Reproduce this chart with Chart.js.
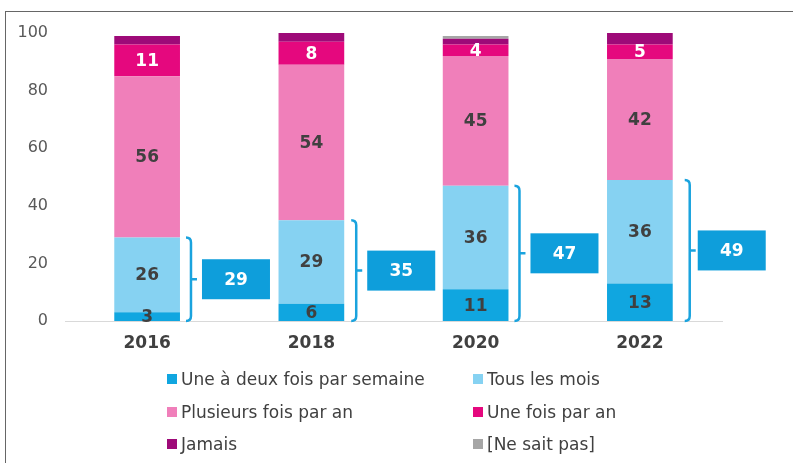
<!DOCTYPE html>
<html>
<head>
<meta charset="utf-8">
<script src="https://cdn.jsdelivr.net/npm/chart.js@4/dist/chart.umd.min.js"></script>
<style>
  body { margin: 0; background: #fff; }
  #wrap { position: relative; width: 793px; height: 463px; overflow: hidden; }
  #frame { position: absolute; left: 5px; top: 11px; right: 0; bottom: 0;
           border-top: 1px solid #666; border-left: 1px solid #666; }
  #legend { position: absolute; left: 167px; top: 363px; display: grid;
            grid-template-columns: 306px auto; grid-auto-rows: 32.5px;
            font: 17px "DejaVu Sans", Verdana, sans-serif; color: #404040; }
  #legend div { display: flex; align-items: center; }
  #legend span.box { width: 10px; height: 10px; margin-right: 4px; display: inline-block; }
  canvas { position: absolute; left: 0; top: 0; }
</style>
</head>
<body>
<div id="wrap">
  <div id="frame"></div>
  <canvas id="freqChart" width="793" height="463"></canvas>
  <div id="legend"></div>
</div>
<script>
// Fréquence - par année
const years = ['2016', '2018', '2020', '2022'];
const weekly = [3, 6, 11, 13];
const monthly = [26, 29, 36, 36];
const severalPerYear = [56, 54, 45, 42];
const oncePerYear = [11, 8, 4, 5];
const never = [3, 3, 2, 4];
const dontKnow = [0, 0, 1, 0];

const seriesNames = ['Une à deux fois par semaine', 'Tous les mois', 'Plusieurs fois par an',
                     'Une fois par an', 'Jamais', '[Ne sait pas]'];
const seriesColors = ['#10a6e0', '#86d2f2', '#f07fba', '#e5087e', '#9e0a78', '#a6a6a6'];
const seriesData = [weekly, monthly, severalPerYear, oncePerYear, never, dontKnow];

const yTicks = [0, 20, 40, 60, 80, 100];

// étiquettes dans les barres
const segmentLabels = {
    id: 'segmentLabels',
    afterDatasetsDraw(chart) {
        const ctx = chart.ctx;
        ctx.save();
        ctx.font = 'bold 17px "DejaVu Sans"';
        ctx.textAlign = 'center';
        ctx.textBaseline = 'middle';
        chart.data.datasets.forEach((ds, i) => {
            if (i > 3) return;
            chart.getDatasetMeta(i).data.forEach((bar, j) => {
                const y = (bar.y + bar.base) / 2;
                ctx.fillStyle = i === 3 ? '#ffffff' : '#404040';
                ctx.fillText(ds.data[j], bar.x, y + 1);
            });
        });
        ctx.restore();
    }
};

// accolades + totaux (semaine + mois)
const bracketGap = [11, 12, 11, 17];
const brackets = {
    id: 'brackets',
    afterDatasetsDraw(chart) {
        const ctx = chart.ctx;
        const yScale = chart.scales.y;
        ctx.save();
        chart.getDatasetMeta(0).data.forEach((bar, j) => {
            const total = weekly[j] + monthly[j];
            const bx = bar.x + bar.width / 2 + bracketGap[j];
            const top = yScale.getPixelForValue(total);
            const bot = yScale.getPixelForValue(0);
            const mid = (top + bot) / 2;

            ctx.strokeStyle = '#1aa3de';
            ctx.lineWidth = 2.5;
            ctx.beginPath();
            ctx.moveTo(bx - 5, top);
            ctx.quadraticCurveTo(bx, top, bx, top + 5);
            ctx.lineTo(bx, bot - 5);
            ctx.quadraticCurveTo(bx, bot, bx - 5, bot);
            ctx.moveTo(bx, mid);
            ctx.lineTo(bx + 6, mid);
            ctx.stroke();

            const boxX = bx + (j === 3 ? 8 : 11);
            ctx.fillStyle = '#0e9edb';
            ctx.fillRect(boxX, mid - 20, 68, 40);
            ctx.fillStyle = '#ffffff';
            ctx.font = 'bold 17px "DejaVu Sans"';
            ctx.textAlign = 'center';
            ctx.textBaseline = 'middle';
            ctx.fillText(total, boxX + 34, mid + 1);
        });
        ctx.restore();
    }
};

const ctx = document.getElementById('freqChart').getContext('2d');
const freqChart = new Chart(ctx, {
    type: 'bar',
    data: {
        labels: years,
        datasets: seriesData.map((d, i) => ({
            label: seriesNames[i],
            data: d,
            backgroundColor: seriesColors[i],
            borderWidth: 0,
            barPercentage: 0.4,
            categoryPercentage: 1
        }))
    },
    options: {
        responsive: false,
        animation: false,
        layout: { padding: { left: 0, right: 71, top: 33, bottom: 102 } },
        plugins: {
            legend: { display: false },
            tooltip: { enabled: false }
        },
        scales: {
            x: {
                stacked: true,
                grid: { display: false, drawTicks: false },
                border: { display: true, color: '#d9d9d9', width: 1 },
                ticks: {
                    padding: 12,
                    color: '#404040',
                    font: { family: 'DejaVu Sans', size: 17, weight: 'bold' }
                },
                afterFit(scale) { scale.height = 40; }
            },
            y: {
                stacked: true,
                min: 0,
                max: 100,
                grid: { display: false, drawTicks: false },
                border: { display: false },
                afterBuildTicks(scale) { scale.ticks = yTicks.map(v => ({ value: v })); },
                ticks: {
                    padding: 17,
                    color: '#595959',
                    font: { family: 'DejaVu Sans', size: 16 }
                },
                afterFit(scale) { scale.width = 65; }
            }
        }
    },
    plugins: [segmentLabels, brackets]
});

// légende en deux colonnes
const legendEl = document.getElementById('legend');
freqChart.data.datasets.forEach(ds => {
    const item = document.createElement('div');
    item.innerHTML = '<span class="box" style="background:' + ds.backgroundColor + '"></span>' + ds.label;
    legendEl.appendChild(item);
});
</script>
</body>
</html>
